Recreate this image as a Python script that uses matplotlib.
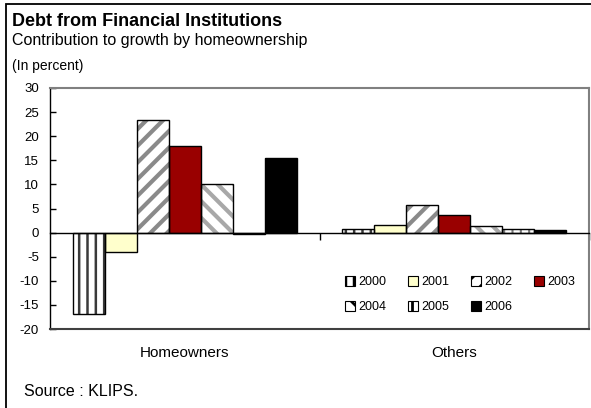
import matplotlib
matplotlib.use("Agg")
import matplotlib.pyplot as plt
import numpy as np
from matplotlib.patches import Patch, Rectangle
from matplotlib.lines import Line2D

plt.rcParams['font.family'] = ['Liberation Sans', 'DejaVu Sans']
plt.rcParams['hatch.linewidth'] = 2.0

# Data
categories = ["Homeowners", "Others"]
years = ["2000", "2001", "2002", "2003", "2004", "2005", "2006"]
values = {
    "2000": [-16.8, 0.8],
    "2001": [-4.0, 1.6],
    "2002": [23.4, 5.8],
    "2003": [18.0, 3.7],
    "2004": [10.0, 1.4],
    "2005": [-0.3, 0.8],
    "2006": [15.4, 0.6],
}
yticks = [30, 25, 20, 15, 10, 5, 0, -5, -10, -15, -20]

# Fill / hatch styling per series
styles = {
    "2000": dict(fc="white", hc="#3a3a3a", hatch="||", hlw=1.8),
    "2001": dict(fc="#FFFFCC", hc="black", hatch=None, hlw=1.0),
    "2002": dict(fc="white", hc="#8a8a8a", hatch="//", hlw=3.0),
    "2003": dict(fc="#990000", hc="black", hatch=None, hlw=1.0),
    "2004": dict(fc="white", hc="#a8a8a8", hatch="\\\\", hlw=3.0),
    "2005": dict(fc="white", hc="#7a7a7a", hatch="||", hlw=1.5),
    "2006": dict(fc="black", hc="black", hatch=None, hlw=1.0),
}

W, H = 591, 408
fig = plt.figure(figsize=(W / 100, H / 100), dpi=100)

# Outer frame of the exhibit
fig.add_artist(Rectangle((6 / W, -0.05), 1.2, (H - 4) / H + 0.05,
                         transform=fig.transFigure, fill=False,
                         edgecolor="black", linewidth=1.3))

# Titles
fig.text(12 / W, 1 - 21 / H, "Debt from Financial Institutions",
         fontsize=13, fontweight="bold", va="center", ha="left")
fig.text(12 / W, 1 - 40 / H, "Contribution to growth by homeownership",
         fontsize=11.5, va="center", ha="left")
fig.text(12 / W, 1 - 66 / H, "(In percent)",
         fontsize=10, va="center", ha="left")
fig.text(24 / W, 1 - 391 / H, "Source : KLIPS.",
         fontsize=11.5, va="center", ha="left")

# Plot area
left, right, top, bottom = 50, 589, 88, 329
ax = fig.add_axes([left / W, 1 - bottom / H, (right - left) / W, (bottom - top) / H])

n = len(years)
bw = 0.119
x = np.arange(len(categories))
offsets = (np.arange(n) - (n - 1) / 2) * bw

for i, yr in enumerate(years):
    st = styles[yr]
    vals = values[yr]
    bars = ax.bar(x + offsets[i], vals, width=bw, color=st["fc"], edgecolor=st["hc"],
                  hatch=st["hatch"], linewidth=0, zorder=2)
    for b in bars:
        if hasattr(b, "set_hatch_linewidth"):
            b.set_hatch_linewidth(st["hlw"])
    ax.bar(x + offsets[i], vals, width=bw, fill=False, edgecolor="black",
           linewidth=1.0, zorder=3)

ax.set_xlim(-0.5, 1.5)
ax.set_ylim(-20, 30)
ax.set_yticks(yticks)
ax.set_yticklabels([str(t) for t in yticks], fontsize=9.5)
ax.tick_params(axis="y", direction="in", length=4, width=1, pad=8, color="black")

# Category axis sits on the zero line
ax.spines["bottom"].set_position(("data", 0))
ax.spines["bottom"].set_color("black")
ax.spines["bottom"].set_linewidth(1.0)
ax.spines["bottom"].set_zorder(4)
ax.set_xticks([0.5, 1.5])
ax.set_xticklabels([])
ax.tick_params(axis="x", direction="out", length=5, width=1, color="black")

ax.spines["left"].set_color("black")
ax.spines["left"].set_linewidth(1.0)
for s in ("top", "right"):
    ax.spines[s].set_color("#808080")
    ax.spines[s].set_linewidth(1.5)
# lower edge of the plot frame
ax.add_line(Line2D([0, 1], [0, 0], transform=ax.transAxes, color="#404040",
                   linewidth=1.5, clip_on=False, zorder=5))

# Category labels below the frame
trans = matplotlib.transforms.blended_transform_factory(ax.transData, fig.transFigure)
for xi, cat in zip(x, categories):
    ax.text(xi, 1 - 353 / H, cat, transform=trans, ha="center", va="center",
            fontsize=11)

# Legend, filled row by row
handles = [Patch(facecolor=styles[yr]["fc"], edgecolor="black", linewidth=0.8,
                 hatch=styles[yr]["hatch"]) for yr in years]
order = [0, 4, 1, 5, 2, 6, 3]
leg = fig.legend([handles[k] for k in order], [years[k] for k in order],
                 ncol=4, loc="upper left", bbox_to_anchor=(345 / W, 1 - 276 / H),
                 frameon=False, fontsize=9, handlelength=0.8, handleheight=0.8,
                 handletextpad=0.25, columnspacing=1.75, labelspacing=1.05,
                 borderaxespad=0, borderpad=0)

fig.savefig("out.png", dpi=100)
